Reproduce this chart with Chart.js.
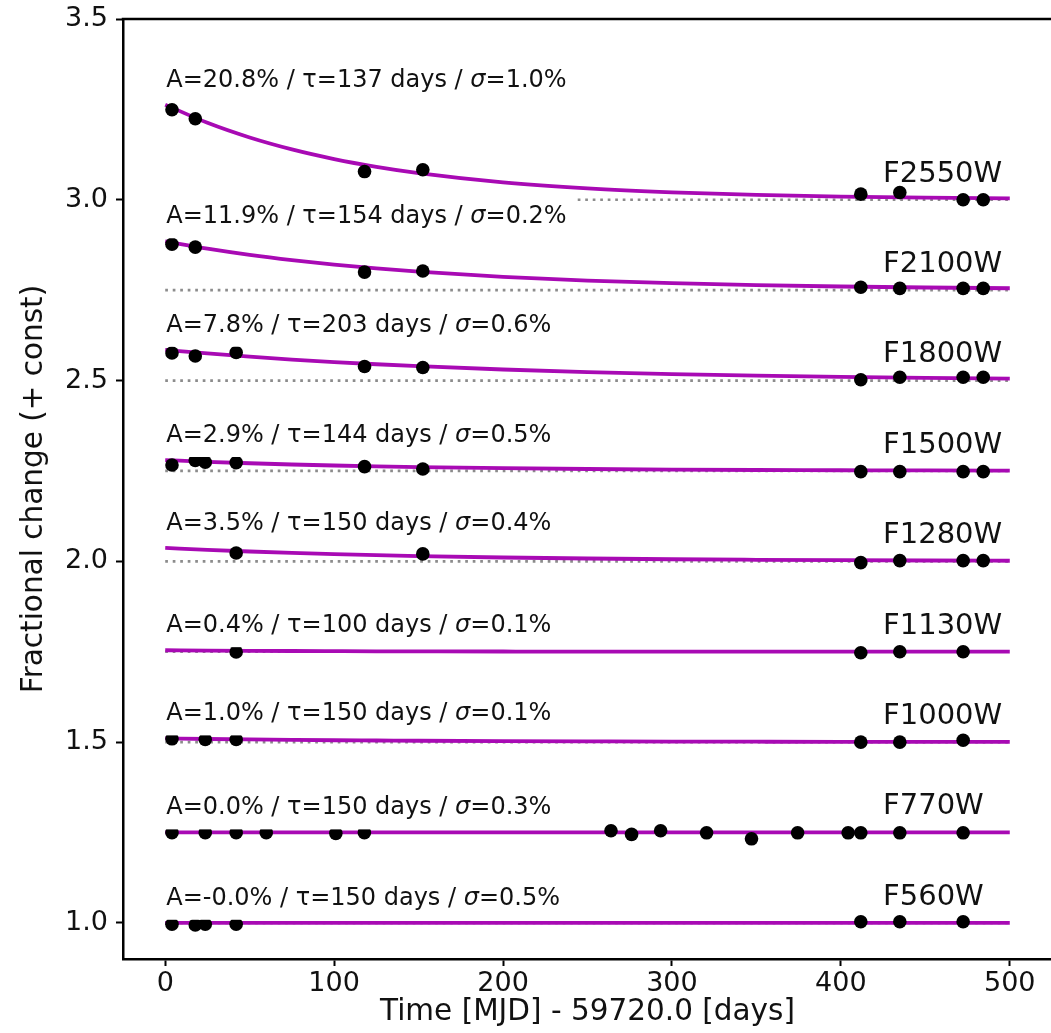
<!DOCTYPE html>
<html>
<head>
<meta charset="utf-8">
<script src="https://cdn.jsdelivr.net/npm/chart.js@4.4.1/dist/chart.umd.min.js"></script>
<style>
html,body{margin:0;padding:0;background:#fff;overflow:hidden;}
#wrap{width:1051px;height:1033px;overflow:hidden;position:relative;}
canvas{display:block;}
</style>
</head>
<body>
<div id="wrap"><canvas id="c" width="1060" height="1033" style="width:1060px;height:1033px"></canvas></div>
<script>
// ---------------- data ----------------
const filters = ['F560W','F770W','F1000W','F1130W','F1280W','F1500W','F1800W','F2100W','F2550W'];
const offsets = [1.0, 1.25, 1.5, 1.75, 2.0, 2.25, 2.5, 2.75, 3.0];
const fitLabels = [
  'A=-0.0% / \u03c4=150 days / \u03c3=0.5%',
  'A=0.0% / \u03c4=150 days / \u03c3=0.3%',
  'A=1.0% / \u03c4=150 days / \u03c3=0.1%',
  'A=0.4% / \u03c4=100 days / \u03c3=0.1%',
  'A=3.5% / \u03c4=150 days / \u03c3=0.4%',
  'A=2.9% / \u03c4=144 days / \u03c3=0.5%',
  'A=7.8% / \u03c4=203 days / \u03c3=0.6%',
  'A=11.9% / \u03c4=154 days / \u03c3=0.2%',
  'A=20.8% / \u03c4=137 days / \u03c3=1.0%'
];

// observation epochs (days) and fractional change (+ const)
const t560  = [4, 17.8, 23.7, 42, 411.8, 434.9, 472.4];
const v560  = [0.996, 0.994, 0.996, 0.996, 1.003, 1.003, 1.003];
const t770  = [4, 23.7, 42, 59.8, 101, 117.9, 263.9, 276.1, 293.3, 320.5, 347.1, 374.4, 404.3, 411.8, 434.9, 472.4];
const v770  = [1.2495, 1.2495, 1.2495, 1.2495, 1.2475, 1.2495, 1.2546, 1.2446, 1.2546, 1.249, 1.2324, 1.249, 1.249, 1.249, 1.249, 1.249];
const t1000 = [4, 23.7, 42, 411.8, 434.9, 472.4];
const v1000 = [1.509, 1.507, 1.507, 1.4998, 1.4998, 1.505];
const t1130 = [42, 411.8, 434.9, 472.4];
const v1130 = [1.749, 1.747, 1.7497, 1.7497];
const t1280 = [42, 152.5, 411.8, 434.9, 472.4, 484.3];
const v1280 = [2.023, 2.0205, 1.9963, 2.0019, 2.0019, 2.0019];
const t1500 = [4, 17.8, 23.7, 42, 118, 152.5, 411.8, 434.9, 472.4, 484.3];
const v1500 = [2.2665, 2.279, 2.274, 2.273, 2.2618, 2.2554, 2.248, 2.248, 2.248, 2.248];
const t1800 = [4, 17.8, 42, 118, 152.5, 411.8, 434.9, 472.4, 484.3];
const v1800 = [2.576, 2.568, 2.5775, 2.539, 2.536, 2.502, 2.509, 2.509, 2.509];
const t2100 = [4, 17.8, 118, 152.5, 411.8, 434.9, 472.4, 484.3];
const v2100 = [2.877, 2.869, 2.800, 2.803, 2.758, 2.755, 2.755, 2.755];
const t2550 = [4, 17.8, 118, 152.5, 411.8, 434.9, 472.4, 484.3];
const v2550 = [3.249, 3.224, 3.078, 3.083, 3.0155, 3.020, 3.000, 3.000];

// fitted curves at these epochs
const curveT = [0, 25, 50, 75, 100, 125, 150, 200, 250, 300, 350, 400, 450, 500];
const c560  = [1.0, 1.0, 1.0, 1.0, 1.0, 1.0, 1.0, 1.0, 1.0, 1.0, 1.0, 1.0, 1.0, 1.0];
const c770  = [1.25, 1.25, 1.25, 1.25, 1.25, 1.25, 1.25, 1.25, 1.25, 1.25, 1.25, 1.25, 1.25, 1.25];
const c1000 = [1.51, 1.5085, 1.5072, 1.5061, 1.5051, 1.5044, 1.5037, 1.5026, 1.5019, 1.5014, 1.501, 1.5007, 1.5005, 1.5004];
const c1130 = [1.754, 1.7531, 1.7524, 1.7519, 1.7515, 1.7511, 1.7509, 1.7505, 1.7503, 1.7502, 1.7501, 1.7501, 1.75, 1.75];
const c1280 = [2.037, 2.0316, 2.0271, 2.0232, 2.0198, 2.0169, 2.0145, 2.0106, 2.0078, 2.0057, 2.0042, 2.003, 2.0022, 2.0016];
const c1500 = [2.28, 2.2752, 2.2712, 2.2678, 2.265, 2.2626, 2.2606, 2.2575, 2.2553, 2.2537, 2.2526, 2.2519, 2.2513, 2.2509];
const c1800 = [2.585, 2.5749, 2.566, 2.5581, 2.5512, 2.545, 2.5396, 2.5305, 2.5234, 2.5178, 2.5135, 2.5101, 2.5075, 2.5054];
const c2100 = [2.885, 2.8648, 2.8476, 2.833, 2.8205, 2.81, 2.801, 2.7868, 2.7766, 2.7693, 2.7639, 2.7601, 2.7573, 2.7553];
const c2550 = [3.263, 3.2128, 3.1722, 3.1393, 3.1127, 3.0912, 3.0738, 3.0483, 3.0316, 3.0207, 3.0135, 3.0089, 3.0058, 3.0038];

const xTicks = [0, 100, 200, 300, 400, 500];
const yTicks = [1.0, 1.5, 2.0, 2.5, 3.0, 3.5];
const xTitle = 'Time [MJD] - 59720.0 [days]';
const yTitle = 'Fractional change (+ const)';

// ---------------- build ----------------
const obsT = [t560, t770, t1000, t1130, t1280, t1500, t1800, t2100, t2550];
const obsV = [v560, v770, v1000, v1130, v1280, v1500, v1800, v2100, v2550];
const curves = [c560, c770, c1000, c1130, c1280, c1500, c1800, c2100, c2550];

const FONT = "'DejaVu Sans', 'Liberation Sans', sans-serif";
const CURVE_COLOR = '#a80ab4';
const datasets = [];
filters.forEach((f, i) => {
  datasets.push({
    label: f + ' baseline',
    data: [{x: curveT[0], y: offsets[i]}, {x: curveT[curveT.length - 1], y: offsets[i]}],
    showLine: true, borderColor: '#8c8c8c', borderWidth: 2.7, borderDash: [2.7, 4.8],
    pointRadius: 0, order: 3
  });
  datasets.push({
    label: f + ' fit',
    data: curveT.map((t, k) => ({x: t, y: curves[i][k]})),
    showLine: true, borderColor: CURVE_COLOR, borderWidth: 3.8,
    cubicInterpolationMode: 'monotone', pointRadius: 0, order: 2
  });
  datasets.push({
    label: f,
    data: obsT[i].map((t, k) => ({x: t, y: obsV[i][k]})),
    showLine: false, pointRadius: 6.8, pointBackgroundColor: '#000',
    pointBorderWidth: 0, pointHoverRadius: 6.8, order: 1
  });
});

// draws text, rendering the sigma in italic (as mathtext does)
function drawMixed(ctx, text, x, y, size) {
  const parts = text.split('\u03c3');
  let cx = x;
  parts.forEach((p, k) => {
    ctx.font = size + 'px ' + FONT;
    ctx.fillText(p, cx, y);
    cx += ctx.measureText(p).width;
    if (k < parts.length - 1) {
      ctx.font = 'italic ' + size + 'px ' + FONT;
      ctx.fillText('\u03c3', cx, y);
      cx += ctx.measureText('\u03c3').width;
    }
  });
  return cx - x;
}
function measureMixed(ctx, text, size) {
  ctx.font = size + 'px ' + FONT;
  return ctx.measureText(text).width;
}

const annot = {
  id: 'annot',
  afterDatasetsDraw(chart) {
    const ctx = chart.ctx, xs = chart.scales.x, ys = chart.scales.y, ca = chart.chartArea;
    ctx.save();
    ctx.beginPath();
    ctx.rect(ca.left, ca.top, ca.right - ca.left, ca.bottom - ca.top);
    ctx.clip();
    filters.forEach((f, i) => {
      ctx.textBaseline = 'alphabetic';
      ctx.textAlign = 'left';
      const x0 = xs.getPixelForValue(0);
      const yb = ys.getPixelForValue(Math.max(...curves[i]) + 0.05);
      const w = measureMixed(ctx, fitLabels[i], 24);
      ctx.fillStyle = '#fff';
      ctx.fillRect(x0 - 10, yb - 27, w + 21, 27 + 15);
      ctx.fillStyle = '#111';
      drawMixed(ctx, fitLabels[i], x0 + 1, yb, 24);
      ctx.font = '29px ' + FONT;
      ctx.fillText(f, xs.getPixelForValue(425), ys.getPixelForValue(offsets[i] + 0.05));
    });
    ctx.restore();
    ctx.save();
    ctx.strokeStyle = '#000';
    ctx.lineWidth = 2.5;
    ctx.beginPath();
    ctx.moveTo(ca.left - 1.25, ca.top);
    ctx.lineTo(ca.right + 10, ca.top);
    ctx.stroke();
    ctx.restore();
  }
};

new Chart(document.getElementById('c'), {
  type: 'scatter',
  data: {datasets},
  options: {
    responsive: false, animation: false, devicePixelRatio: 1,
    layout: {padding: {left: 0, top: 19, right: 8, bottom: 0}},
    plugins: {legend: {display: false}, tooltip: {enabled: false}},
    scales: {
      x: {
        type: 'linear', min: -25, max: 525,
        afterBuildTicks: s => { s.ticks = xTicks.map(v => ({value: v})); },
        afterFit: s => { s.height = 74; s.paddingLeft = 0; s.paddingRight = 0; },
        grid: {display: true, drawOnChartArea: false, drawTicks: true, tickLength: 7, tickWidth: 2, tickColor: '#000'},
        border: {display: true, color: '#000', width: 2.5},
        ticks: {color: '#111', font: {family: FONT, size: 27}, padding: 2, maxRotation: 0,
                callback: v => String(v)},
        title: {display: true, text: xTitle, color: '#111', font: {family: FONT, size: 29.5}, padding: {top: 0, bottom: 3}}
      },
      y: {
        type: 'linear', min: 0.9, max: 3.5,
        afterBuildTicks: s => { s.ticks = yTicks.map(v => ({value: v})); },
        afterFit: s => { s.width = 123; s.paddingTop = 0; s.paddingBottom = 0; },
        grid: {display: true, drawOnChartArea: false, drawTicks: true, tickLength: 7, tickWidth: 2, tickColor: '#000'},
        border: {display: true, color: '#000', width: 2.5},
        ticks: {color: '#111', font: {family: FONT, size: 27}, padding: 8,
                callback: v => Number(v).toFixed(1)},
        title: {display: true, text: yTitle, color: '#111', font: {family: FONT, size: 29.5}, padding: {top: 17, bottom: 0}}
      }
    }
  },
  plugins: [annot]
});
</script>
</body>
</html>
